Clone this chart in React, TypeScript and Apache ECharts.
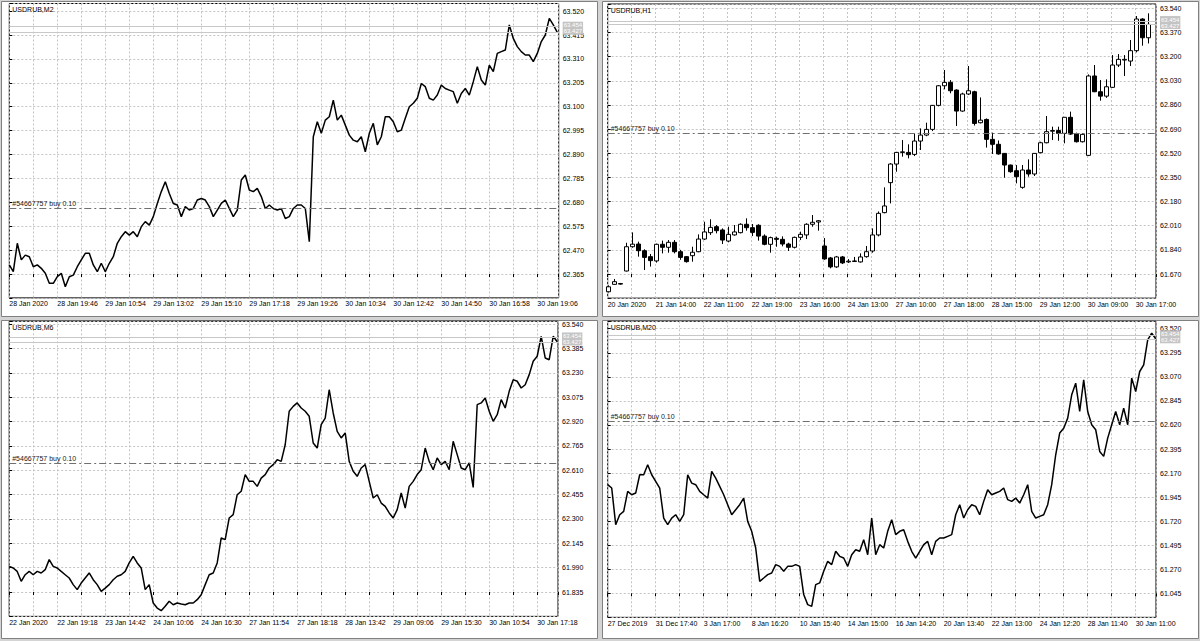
import React, { useEffect, useRef } from "react";
import * as echarts from "echarts";

// ---------------- DATA ----------------
const m2Labels = ["28 Jan 2020", "28 Jan 19:46", "29 Jan 10:54", "29 Jan 13:02", "29 Jan 15:10", "29 Jan 17:18", "29 Jan 19:26", "30 Jan 10:34", "30 Jan 12:42", "30 Jan 14:50", "30 Jan 16:58", "30 Jan 19:06"];
const h1Labels = ["20 Jan 2020", "21 Jan 14:00", "22 Jan 11:00", "22 Jan 19:00", "23 Jan 16:00", "24 Jan 13:00", "27 Jan 10:00", "27 Jan 18:00", "28 Jan 15:00", "29 Jan 12:00", "30 Jan 09:00", "30 Jan 17:00"];
const m6Labels = ["22 Jan 2020", "22 Jan 19:18", "23 Jan 14:42", "24 Jan 10:06", "24 Jan 16:30", "27 Jan 11:54", "27 Jan 18:18", "28 Jan 13:42", "29 Jan 09:06", "29 Jan 15:30", "30 Jan 10:54", "30 Jan 17:18"];
const m20Labels = ["27 Dec 2019", "31 Dec 17:40", "3 Jan 17:00", "8 Jan 16:20", "10 Jan 15:40", "14 Jan 15:00", "16 Jan 14:20", "20 Jan 13:40", "22 Jan 13:00", "24 Jan 12:20", "28 Jan 11:40", "30 Jan 11:00"];

const m2Close = [
  62.405, 62.375, 62.500, 62.427, 62.448, 62.441, 62.397, 62.405, 62.390, 62.368,
  62.324, 62.324, 62.353, 62.368, 62.309, 62.353, 62.360, 62.397, 62.427, 62.456,
  62.456, 62.405, 62.375, 62.412, 62.375, 62.412, 62.441, 62.500, 62.529, 62.551,
  62.536, 62.551, 62.529, 62.573, 62.595, 62.580, 62.617, 62.675, 62.727, 62.770,
  62.719, 62.675, 62.668, 62.617, 62.661, 62.646, 62.653, 62.690, 62.697, 62.690,
  62.661, 62.617, 62.646, 62.675, 62.690, 62.653, 62.617, 62.646, 62.778, 62.800,
  62.734, 62.727, 62.741, 62.705, 62.653, 62.668, 62.653, 62.646, 62.653, 62.609,
  62.617, 62.653, 62.668, 62.668, 62.653, 62.507, 62.968, 63.034, 62.983, 63.041,
  63.056, 63.129, 63.041, 63.063, 63.019, 62.975, 62.953, 62.946, 62.968, 62.902,
  62.983, 63.027, 62.932, 62.968, 63.056, 63.056, 63.034, 62.990, 62.997, 63.049,
  63.100, 63.115, 63.137, 63.202, 63.188, 63.137, 63.129, 63.151, 63.195, 63.180,
  63.173, 63.166, 63.115, 63.158, 63.180, 63.151, 63.210, 63.276, 63.217, 63.195,
  63.283, 63.254, 63.334, 63.342, 63.349, 63.459, 63.400, 63.364, 63.342, 63.327,
  63.327, 63.298, 63.334, 63.386, 63.415, 63.488, 63.459, 63.427,
];

const m6Close = [
  61.998, 61.988, 61.966, 61.903, 61.945, 61.966, 61.945, 61.966, 61.956, 61.977,
  62.041, 61.998, 61.988, 61.966, 61.945, 61.924, 61.882, 61.850, 61.892, 61.924,
  61.956, 61.913, 61.882, 61.839, 61.860, 61.882, 61.913, 61.935, 61.945, 61.966,
  62.020, 62.062, 62.020, 61.988, 61.850, 61.882, 61.765, 61.733, 61.716, 61.744,
  61.776, 61.754, 61.765, 61.759, 61.754, 61.765, 61.765, 61.786, 61.818, 61.882,
  61.945, 61.956, 62.020, 62.179, 62.168, 62.306, 62.327, 62.454, 62.476, 62.582,
  62.539, 62.539, 62.507, 62.560, 62.582, 62.624, 62.645, 62.677, 62.666, 62.772,
  62.985, 63.016, 63.038, 63.006, 62.985, 62.953, 62.783, 62.751, 62.900, 62.942,
  63.122, 62.974, 62.857, 62.815, 62.847, 62.666, 62.603, 62.571, 62.624, 62.645,
  62.539, 62.433, 62.454, 62.401, 62.380, 62.338, 62.306, 62.359, 62.465, 62.369,
  62.507, 62.539, 62.582, 62.613, 62.751, 62.666, 62.613, 62.688, 62.645, 62.666,
  62.613, 62.794, 62.709, 62.624, 62.613, 62.656, 62.500, 63.027, 63.038, 63.069,
  62.985, 62.921, 62.963, 63.059, 63.006, 63.112, 63.186, 63.176, 63.133, 63.154,
  63.218, 63.303, 63.335, 63.462, 63.324, 63.313, 63.462, 63.427,
];

const m20Close = [
  62.061, 62.030, 61.687, 61.780, 61.812, 61.999, 61.967, 61.983, 62.154, 62.154,
  62.248, 62.154, 62.092, 62.030, 61.749, 61.687, 61.749, 61.780, 61.718, 61.780,
  62.154, 62.076, 62.061, 61.999, 61.967, 61.936, 62.185, 62.123, 62.045, 61.967,
  61.874, 61.780, 61.827, 61.874, 61.936, 61.718, 61.625, 61.469, 61.157, 61.188,
  61.220, 61.235, 61.313, 61.297, 61.251, 61.297, 61.297, 61.313, 61.297, 61.033,
  60.939, 60.923, 61.126, 61.142, 61.251, 61.344, 61.313, 61.438, 61.391, 61.375,
  61.297, 61.406, 61.453, 61.438, 61.547, 61.406, 61.749, 61.406, 61.500, 61.469,
  61.625, 61.734, 61.594, 61.625, 61.640, 61.531, 61.438, 61.375, 61.438, 61.500,
  61.531, 61.406, 61.531, 61.562, 61.562, 61.578, 61.594, 61.780, 61.874, 61.749,
  61.827, 61.874, 61.858, 61.780, 61.905, 62.014, 61.967, 61.983, 61.999, 62.030,
  61.921, 61.905, 61.936, 61.889, 61.967, 62.061, 61.812, 61.749, 61.765, 61.780,
  61.874, 62.061, 62.341, 62.544, 62.590, 62.684, 62.902, 63.011, 62.746, 63.042,
  62.746, 62.622, 62.575, 62.372, 62.326, 62.497, 62.622, 62.746, 62.622, 62.778,
  62.622, 63.058, 62.933, 63.120, 63.183, 63.416, 63.479, 63.427,
];

const h1Open = [
  61.545, 61.597, 61.600, 61.691, 61.862, 61.881, 61.834, 61.792, 61.762, 61.879,
  61.858, 61.893, 61.827, 61.792, 61.799, 61.827, 61.916, 61.961, 62.003, 61.980,
  61.902, 61.945, 61.961, 62.020, 61.996, 62.013, 61.937, 61.879, 61.921, 61.914,
  61.881, 61.858, 61.928, 61.945, 62.020, 62.036, 61.867, 61.783, 61.720, 61.790,
  61.755, 61.760, 61.755, 61.792, 61.832, 61.945, 62.102, 62.313, 62.444, 62.526,
  62.526, 62.512, 62.606, 62.648, 62.688, 62.857, 62.995, 63.019, 62.965, 62.817,
  62.937, 62.953, 62.735, 62.758, 62.618, 62.583, 62.519, 62.437, 62.397, 62.280,
  62.402, 62.374, 62.524, 62.594, 62.675, 62.680, 62.660, 62.773, 62.655, 62.601,
  62.505, 63.064, 62.953, 62.922, 62.984, 63.141, 63.176, 63.169, 63.242, 63.465,
  63.333,
];
const h1Close = [
  61.580, 61.616, 61.603, 61.862, 61.880, 61.834, 61.787, 61.764, 61.879, 61.858,
  61.893, 61.827, 61.787, 61.757, 61.823, 61.916, 61.966, 61.998, 61.975, 61.909,
  61.949, 61.966, 62.020, 61.996, 61.963, 61.937, 61.879, 61.926, 61.914, 61.881,
  61.858, 61.928, 61.949, 62.020, 62.034, 62.045, 61.776, 61.720, 61.790, 61.748,
  61.760, 61.762, 61.790, 61.827, 61.945, 62.097, 62.149, 62.444, 62.526, 62.530,
  62.510, 62.606, 62.648, 62.688, 62.857, 62.995, 63.019, 62.960, 62.817, 62.937,
  62.960, 62.730, 62.753, 62.618, 62.583, 62.515, 62.437, 62.390, 62.355, 62.402,
  62.374, 62.519, 62.594, 62.672, 62.680, 62.660, 62.773, 62.655, 62.601, 62.653,
  63.064, 62.953, 62.922, 62.988, 63.141, 63.181, 63.181, 63.242, 63.465, 63.333,
  63.427,
];
const h1Low = [
  61.540, 61.597, 61.596, 61.688, 61.855, 61.792, 61.698, 61.722, 61.750, 61.815,
  61.820, 61.815, 61.770, 61.750, 61.757, 61.823, 61.909, 61.945, 61.956, 61.881,
  61.893, 61.940, 61.956, 61.975, 61.937, 61.905, 61.872, 61.820, 61.862, 61.865,
  61.832, 61.850, 61.909, 61.916, 62.003, 61.975, 61.770, 61.710, 61.713, 61.740,
  61.748, 61.755, 61.750, 61.785, 61.820, 61.935, 62.097, 62.167, 62.390, 62.496,
  62.484, 62.500, 62.543, 62.640, 62.676, 62.850, 62.970, 62.942, 62.712, 62.812,
  62.930, 62.715, 62.730, 62.560, 62.515, 62.510, 62.348, 62.383, 62.308, 62.270,
  62.355, 62.360, 62.520, 62.590, 62.613, 62.608, 62.590, 62.650, 62.596, 62.596,
  62.500, 62.950, 62.890, 62.910, 62.980, 63.127, 63.064, 63.134, 63.230, 63.277,
  63.293,
];
const h1High = [
  61.590, 61.635, 61.607, 61.890, 61.963, 61.898, 61.844, 61.811, 61.884, 61.905,
  61.909, 61.909, 61.840, 61.795, 61.862, 61.949, 62.038, 62.055, 62.015, 61.991,
  62.003, 62.015, 62.027, 62.062, 62.022, 62.020, 61.949, 61.933, 61.933, 61.935,
  61.890, 61.933, 61.968, 62.027, 62.085, 62.050, 61.923, 61.790, 61.797, 61.797,
  61.775, 61.790, 61.815, 61.867, 61.991, 62.110, 62.280, 62.450, 62.530, 62.613,
  62.583, 62.660, 62.695, 62.735, 62.860, 62.999, 63.106, 63.035, 62.970, 62.946,
  63.134, 62.960, 62.913, 62.765, 62.665, 62.610, 62.519, 62.440, 62.437, 62.437,
  62.477, 62.519, 62.601, 62.782, 62.707, 62.707, 62.773, 62.813, 62.665, 62.660,
  63.075, 63.141, 63.035, 63.040, 63.211, 63.218, 63.211, 63.317, 63.486, 63.470,
  63.505,
];

const BID = 63.427;
const ASK = 63.454;
const TRADE_PRICE = 62.658;
const TRADE_TEXT = "#54667757 buy 0.10";

// ---------------- LAYOUT ----------------
const FONT = "Liberation Sans, Arial, sans-serif";

type Panel = {
  title: string;
  left: number; right: number; top: number;
  base: number; step: number; baseY: number; pxStep: number;
  pxPer: number; labels: string[]; kind: "line" | "candle";
  close?: number[];
  frame: [number, number, number, number];
};

const panels: Panel[] = [
  { title: "USDRUB,M2", left: 9.3, right: 558.7, top: 3.5, base: 62.365, step: 0.105, baseY: 274, pxStep: 23.9, pxPer: 4, labels: m2Labels, kind: "line", close: m2Close, frame: [1.5, 1.5, 596, 315] },
  { title: "USDRUB,H1", left: 607.7, right: 1156, top: 4, base: 61.67, step: 0.17, baseY: 274, pxStep: 24.15, pxPer: 6, labels: h1Labels, kind: "candle", frame: [602.5, 1.5, 596, 315] },
  { title: "USDRUB,M6", left: 9.2, right: 558, top: 321.3, base: 61.835, step: 0.155, baseY: 592, pxStep: 24.36, pxPer: 4, labels: m6Labels, kind: "line", close: m6Close, frame: [1.5, 320.5, 596, 318] },
  { title: "USDRUB,M20", left: 607.7, right: 1156, top: 321.3, base: 61.045, step: 0.225, baseY: 593.3, pxStep: 24.05, pxPer: 4, labels: m20Labels, kind: "line", close: m20Close, frame: [602.5, 320.5, 596, 318] },
];

function buildOption() {
  const grid: any[] = [];
  const xAxis: any[] = [];
  const yAxis: any[] = [];
  const series: any[] = [];
  const graphic: any[] = [];

  panels.forEach((p, i) => {
    const width = p.right - p.left;
    const height = p.baseY + p.pxStep - p.top;
    grid.push({
      left: p.left, top: p.top, width, height,
      show: true, borderColor: "#000", borderWidth: 1, backgroundColor: "transparent",
    });
    const labelEvery = 48 / p.pxPer;
    xAxis.push({
      type: "value", gridIndex: i, min: 0, max: width / p.pxPer, interval: 24 / p.pxPer,
      axisLine: { show: false },
      axisTick: { show: true, length: 3, lineStyle: { color: "#000", width: 1 } },
      splitLine: { show: true, lineStyle: { color: "#c4c4c4", type: [2, 2], width: 1 } },
      axisLabel: {
        show: true, fontSize: 7, fontFamily: FONT, color: "#000", align: "left", margin: 2.5,
        formatter: (v: number) => {
          const k = v / labelEvery;
          const r = Math.round(k);
          return Math.abs(k - r) < 1e-6 && r >= 0 && r < p.labels.length ? p.labels[r] : "";
        },
      },
    });
    const maxY = -p.step + (height / p.pxStep) * p.step;
    yAxis.push({
      type: "value", gridIndex: i, position: "right", min: -p.step, max: maxY, interval: p.step,
      axisLine: { show: false },
      axisTick: { show: true, length: 3, lineStyle: { color: "#000", width: 1 } },
      splitLine: { show: true, lineStyle: { color: "#c4c4c4", type: [2, 2], width: 1 } },
      axisLabel: {
        show: true, fontSize: 7, fontFamily: FONT, color: "#000", margin: 4,
        formatter: (v: number) => {
          const k = v / p.step;
          const r = Math.round(k);
          if (Math.abs(k - r) > 1e-6 || r < 0) return "";
          return (p.base + r * p.step).toFixed(3);
        },
      },
    });

    const markLine = {
      symbol: ["none", "none"], silent: true, animation: false,
      data: [
        {
          yAxis: TRADE_PRICE - p.base,
          lineStyle: { color: "#707070", type: [7, 3, 2, 3], width: 1 },
          label: { show: true, position: "insideStartTop", formatter: TRADE_TEXT, color: "#202020", fontSize: 7, fontFamily: FONT, distance: [3, 1] },
        },
        {
          yAxis: ASK - p.base,
          lineStyle: { color: "#c8c8c8", type: "solid", width: 1 },
          label: { show: false },
        },
        {
          yAxis: BID - p.base,
          lineStyle: { color: "#c8c8c8", type: "solid", width: 1 },
          label: { show: false },
        },
        {
          yAxis: (ASK + BID) / 2 - p.base,
          lineStyle: { color: "rgba(255,255,255,0)", type: "solid", width: 1 },
          label: {
            show: true, position: "end", distance: 4, fontSize: 6, fontFamily: FONT,
            color: "#ffffff", backgroundColor: "#c4c4c4", padding: [1, 1, 0, 1], lineHeight: 6,
            formatter: ASK.toFixed(3) + "\n" + BID.toFixed(3),
          },
        },
      ],
    };

    if (p.kind === "line" && p.close) {
      series.push({
        type: "line", xAxisIndex: i, yAxisIndex: i, silent: true,
        data: p.close.map((v, k) => [k, v - p.base]),
        symbol: "none", showSymbol: false,
        lineStyle: { color: "#000", width: 1.5 },
        z: 3,
        markLine,
      });
    } else {
      const cdata = h1Open.map((o, k) => [k, o - p.base, h1Close[k] - p.base, h1Low[k] - p.base, h1High[k] - p.base]);
      series.push({
        type: "custom", xAxisIndex: i, yAxisIndex: i, silent: true, z: 4,
        encode: { x: 0, y: [1, 2, 3, 4] },
        data: cdata,
        renderItem: (params: any, api: any) => {
          const x = api.value(0);
          const o = api.value(1), c = api.value(2), l = api.value(3), h = api.value(4);
          const pO = api.coord([x, o]);
          const pC = api.coord([x, c]);
          const pL = api.coord([x, l]);
          const pH = api.coord([x, h]);
          const cx = Math.round(pO[0]) + 0.5;
          const top = Math.min(pO[1], pC[1]);
          const bot = Math.max(pO[1], pC[1]);
          const bull = c >= o;
          return {
            type: "group",
            children: [
              { type: "line", shape: { x1: cx, y1: pH[1], x2: cx, y2: pL[1] }, style: { stroke: "#000", lineWidth: 1 } },
              { type: "rect", shape: { x: cx - 2, y: top, width: 4, height: Math.max(bot - top, 0.6) }, style: { fill: bull ? "#fff" : "#000", stroke: "#000", lineWidth: 1 } },
            ],
          };
        },
      });
      series.push({
        type: "line", xAxisIndex: i, yAxisIndex: i, silent: true,
        data: h1Close.map((v, k) => [k, v - p.base]),
        symbol: "none", showSymbol: false,
        lineStyle: { color: "rgba(0,0,0,0)", width: 1 },
        z: 3,
        markLine,
      });
    }

    const [fx, fy, fw, fh] = p.frame;
    graphic.push({
      type: "rect", z: -10, silent: true,
      shape: { x: fx, y: fy, width: fw, height: fh },
      style: { fill: "#ffffff", stroke: "#808080", lineWidth: 1 },
    });
    graphic.push({
      type: "text", z: 10, silent: true,
      x: p.left + 3, y: p.top + 6,
      style: { text: p.title, fontSize: 7, fontFamily: FONT, fill: "#000", textVerticalAlign: "middle" },
    });
  });

  return {
    animation: false,
    backgroundColor: "#d4d4d4",
    grid, xAxis, yAxis, series, graphic,
  };
}

export default function App() {
  const ref = useRef<HTMLDivElement>(null);
  useEffect(() => {
    if (!ref.current) return;
    const chart = echarts.init(ref.current, undefined, { renderer: "svg", width: 1200, height: 641 });
    chart.setOption(buildOption() as any);
    return () => chart.dispose();
  }, []);
  return (
    <div
      ref={ref}
      style={{ position: "absolute", left: 0, top: 0, width: 1200, height: 641 }}
    />
  );
}
